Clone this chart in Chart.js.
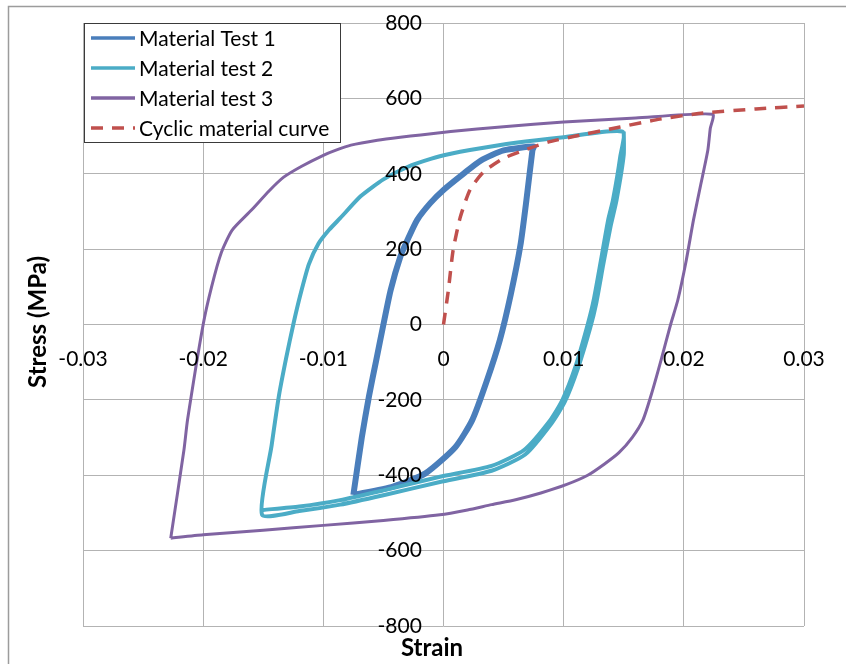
<!DOCTYPE html>
<html>
<head>
<meta charset="utf-8">
<script src="https://cdn.jsdelivr.net/npm/chart.js@4"></script>
<style>
  html, body { margin: 0; padding: 0; background: #fff; }
</style>
</head>
<body>
<canvas id="stressChart" width="846" height="664"></canvas>
<script>
// strain / stress (MPa)
const test1Strain = [-0.0075, -0.0068, -0.0062, -0.0056, -0.0050, -0.0044, -0.0036, -0.0030, -0.0022, -0.0011, 0.0000, 0.0017, 0.0031, 0.0050, 0.0075,
  0.0074, 0.0069, 0.0064, 0.0056, 0.0047, 0.0036, 0.0024, 0.0010, -0.0015, -0.0042, -0.0075];
const test1Stress = [-452, -300, -190, -95, 0, 91, 179, 224, 277, 322, 357, 401, 435, 462, 472,
  462, 330, 210, 80, -40, -150, -253, -325, -395, -430, -452];

// two cycles: second unloading, shared loading, first unloading
const test2Strain = [0.0150, 0.0150, 0.0144, 0.0139, 0.0133, 0.0127, 0.0122, 0.0112, 0.0101, 0.0090, 0.0068, 0.0040, -0.0003, -0.0050, -0.0086, -0.0120, -0.0151,
  -0.0143, -0.0137, -0.0131, -0.0125, -0.0119, -0.0112, -0.0104, -0.0095, -0.0086, -0.0069, -0.0050, -0.0030, -0.0010, 0.0006, 0.0022, 0.0060, 0.0100, 0.0149,
  0.0147, 0.0141, 0.0137, 0.0131, 0.0125, 0.0120, 0.0110, 0.0099, 0.0089, 0.0067, 0.0040, -0.0003, -0.0050, -0.0086, -0.0120, -0.0150];
const test2Stress = [512, 450, 330, 260, 160, 55, -10, -115, -205, -262, -345, -388, -418, -453, -478, -495, -505,
  -320, -190, -90, 0, 80, 160, 215, 252, 282, 340, 385, 418, 440, 453, 463, 482, 497, 512,
  444, 330, 277, 170, 65, 0, -110, -200, -253, -333, -375, -404, -440, -466, -483, -492];

const test3Strain = [-0.0227, -0.0216, -0.0213, -0.0200, -0.0193, -0.0185, -0.0176, -0.0160, -0.0145, -0.0133, -0.0118, -0.0100, -0.0090, -0.0077, -0.0055, -0.0036, -0.0019, 0.0006, 0.0050, 0.0100, 0.0160, 0.0224,
  0.0222, 0.0220, 0.0214, 0.0208, 0.0202, 0.0195, 0.0189, 0.0181, 0.0173, 0.0166, 0.0157, 0.0146, 0.0134, 0.0120, 0.0102, 0.0081, 0.0060, 0.0040, 0.0020, -0.0003, -0.0050, -0.0100, -0.0150, -0.0200, -0.0227];
const test3Stress = [-567, -333, -253, 0, 100, 190, 250, 303, 355, 391, 420, 449, 462, 476, 489, 497, 503, 512, 525, 537, 548, 558,
  520, 463, 370, 277, 170, 65, 0, -95, -185, -253, -300, -340, -370, -400, -425, -447, -465, -478, -492, -505, -520, -533, -546, -558, -567];

const cyclicStrain = [0, 0.0004, 0.0008, 0.0014, 0.0022, 0.0033, 0.0050, 0.0072, 0.0087, 0.0110, 0.0147, 0.0180, 0.0216, 0.0260, 0.0300];
const cyclicStress = [0, 90, 197, 285, 357, 404, 441, 468, 484, 500, 524, 545, 561, 572, 580];

const seriesNames = ["Material Test 1", "Material test 2", "Material test 3", "Cyclic material curve"];
const xTicks = [-0.03, -0.02, -0.01, 0, 0.01, 0.02, 0.03];
const yTicks = [-800, -600, -400, -200, 0, 200, 400, 600, 800];

function toPoints(xs, ys) {
  return xs.map((x, i) => ({ x: x, y: ys[i] }));
}

const FONT = "Lato, 'Open Sans', sans-serif";
const GRID = "#b3b3b3";
// y tick labels sit a little left of the zero-strain line, as in Excel
const yLabelStrain = -0.0018;

// frame, axis titles and the boxed legend (Excel style)
const excelDecor = {
  id: "excelDecor",
  beforeDraw(chart) {
    const ctx = chart.ctx;
    ctx.save();
    ctx.strokeStyle = "#9c9c9c";
    ctx.lineWidth = 1.5;
    ctx.beginPath();
    ctx.moveTo(8.5, 700);
    ctx.lineTo(8.5, 6.5);
    ctx.lineTo(900, 6.5);
    ctx.stroke();
    ctx.restore();
  },
  afterDraw(chart) {
    const ctx = chart.ctx;
    ctx.save();
    ctx.fillStyle = "#000";
    ctx.font = "bold 24px " + FONT;
    ctx.textAlign = "center";
    ctx.textBaseline = "middle";
    ctx.fillText("Strain", 432, 648);
    ctx.translate(38, 322);
    ctx.rotate(-Math.PI / 2);
    ctx.fillText("Stress (MPa)", 0, 0);
    ctx.restore();

    ctx.save();
    ctx.fillStyle = "#fff";
    ctx.fillRect(84.5, 23.5, 256, 119);
    ctx.strokeStyle = "#3a3a3a";
    ctx.lineWidth = 1;
    ctx.strokeRect(84.5, 23.5, 256, 119);
    ctx.font = "21px " + FONT;
    ctx.textAlign = "left";
    ctx.textBaseline = "middle";
    chart.data.datasets.forEach((ds, i) => {
      const y = 38 + i * 30;
      ctx.strokeStyle = ds.borderColor;
      ctx.lineWidth = 3.5;
      ctx.setLineDash(ds.borderDash || []);
      ctx.beginPath();
      ctx.moveTo(91, y);
      ctx.lineTo(135, y);
      ctx.stroke();
      ctx.setLineDash([]);
      ctx.fillStyle = "#000";
      ctx.fillText(ds.label, 139, y + 1);
    });
    ctx.restore();
  }
};

function noEdgePadding(axis) {
  axis.paddingTop = 0;
  axis.paddingBottom = 0;
  axis.paddingLeft = 0;
  axis.paddingRight = 0;
}

new Chart(document.getElementById("stressChart"), {
  type: "scatter",
  data: {
    datasets: [
      { label: seriesNames[0], data: toPoints(test1Strain, test1Stress), borderColor: "#4a7ebb", borderWidth: 6, order: 4 },
      { label: seriesNames[1], data: toPoints(test2Strain, test2Stress), borderColor: "#4bacc6", borderWidth: 4, order: 3 },
      { label: seriesNames[2], data: toPoints(test3Strain, test3Stress), borderColor: "#8064a2", borderWidth: 3, order: 2 },
      { label: seriesNames[3], data: toPoints(cyclicStrain, cyclicStress), borderColor: "#c0504d", borderWidth: 3.5, borderDash: [12, 9], order: 1 },
    ],
  },
  options: {
    responsive: false,
    animation: false,
    showLine: true,
    elements: {
      point: { radius: 0 },
      line: { tension: 0.2, fill: false },
    },
    layout: { padding: { left: 83, top: 23, right: 42, bottom: 38 } },
    plugins: { legend: { display: false }, tooltip: { enabled: false } },
    scales: {
      x: {
        type: "linear",
        position: { y: 0 },
        min: -0.03,
        max: 0.03,
        afterBuildTicks: (axis) => { axis.ticks = xTicks.map((v) => ({ value: v })); },
        afterFit: noEdgePadding,
        grid: { color: GRID, drawTicks: false },
        border: { display: false },
        ticks: { z: 1, color: "#000", padding: 22, font: { family: FONT, size: 21 }, maxRotation: 0 },
      },
      y: {
        type: "linear",
        position: { x: yLabelStrain },
        min: -800,
        max: 800,
        afterBuildTicks: (axis) => { axis.ticks = yTicks.map((v) => ({ value: v })); },
        afterFit: noEdgePadding,
        grid: { color: GRID, drawTicks: false },
        border: { display: false },
        ticks: { z: 1, color: "#000", padding: 0, font: { family: FONT, size: 21 } },
      },
    },
  },
  plugins: [excelDecor],
});
</script>
</body>
</html>
